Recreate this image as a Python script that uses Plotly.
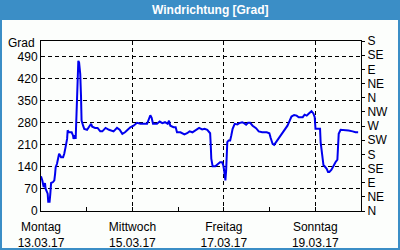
import pandas as pd
import plotly.graph_objects as go

# ---- data ----
start = "2017-03-13 00:00"
hours = [0.0, 0.7, 1.4, 2.1, 2.4, 3.5, 3.8, 4.5, 4.9, 5.3, 6.3, 7.0, 7.4, 7.7, 8.4, 8.7,
         9.5, 10.1, 10.5, 11.6, 12.2, 12.9, 13.7, 14.0, 14.7, 16.1, 16.8, 17.1, 17.9, 18.2,
         18.5, 18.9, 19.2, 19.6, 20.0, 20.3, 20.6, 21.0, 21.3, 22.1, 22.7, 24.2, 24.8, 26.3,
         26.9, 28.4, 29.7, 31.1, 32.2, 33.2, 33.9, 35.7, 37.1, 38.1, 39.9, 41.3, 42.7, 44.1,
         45.5, 46.9, 48.6, 50.4, 52.2, 55.7, 56.7, 57.4, 58.1, 58.8, 60.9, 62.3, 63.7, 65.1,
         66.5, 67.2, 67.9, 69.6, 70.7, 71.4, 73.2, 74.2, 75.3, 76.7, 78.0, 79.5, 81.2, 83.0,
         84.6, 85.9, 87.3, 88.8, 89.1, 89.4, 90.1, 91.5, 92.6, 94.0, 95.1, 95.7, 96.1, 96.8,
         97.2, 97.5, 97.8, 98.5, 99.3, 99.9, 100.6, 101.7, 103.1, 104.1, 105.6, 106.6, 107.7,
         108.7, 109.8, 111.1, 112.9, 114.3, 116.1, 118.5, 119.9, 120.6, 121.6, 122.4, 123.4,
         124.8, 126.2, 127.3, 128.3, 129.4, 130.4, 131.5, 132.9, 134.2, 135.3, 137.4, 138.4,
         139.5, 140.5, 142.0, 143.0, 143.7, 144.1, 145.1, 146.5, 146.8, 147.6, 148.3, 148.9,
         150.0, 150.7, 151.4, 152.5, 153.5, 154.6, 155.6, 156.0, 156.3, 157.3, 158.8, 161.5,
         163.6, 165.1, 166.5]
direction = [110, 97, 76, 89, 71, 55, 29, 29, 55, 89, 92, 97, 118, 139, 150, 161,
             182, 176, 171, 171, 182, 203, 229, 256, 250, 250, 240, 229, 240, 229,
             298, 372, 414, 477, 472, 456, 435, 366, 287, 271, 261, 258, 264, 277,
             268, 264, 264, 253, 253, 261, 264, 258, 256, 253, 264, 258, 245, 250,
             258, 266, 271, 280, 277, 277, 293, 304, 296, 277, 277, 284, 279, 282,
             277, 287, 271, 266, 266, 250, 250, 247, 243, 247, 253, 250, 256, 264,
             259, 261, 258, 247, 213, 166, 142, 142, 148, 155, 155, 145, 131, 97,
             129, 158, 219, 224, 224, 240, 261, 277, 275, 279, 282, 279, 274,
             280, 280, 271, 263, 253, 250, 250, 247, 232, 213, 210, 219,
             229, 243, 250, 261, 271, 285, 300, 305, 303, 298, 298, 306,
             303, 309, 317, 310, 298, 261, 261, 261, 219, 182, 145, 142,
             134, 124, 124, 131, 145, 155, 163, 203, 245, 258, 258, 256,
             253, 250, 250]

x_tick_dates = ["2017-03-13", "2017-03-15", "2017-03-17", "2017-03-19"]
x_tick_days = ["Montag", "Mittwoch", "Freitag", "Sonntag"]
x_tick_labels = ["13.03.17", "15.03.17", "17.03.17", "19.03.17"]
y_ticks = [0, 70, 140, 210, 280, 350, 420, 490]
compass_vals = [0, 45, 90, 135, 180, 225, 270, 315, 360, 405, 450, 495, 540]
compass_text = ["N", "NE", "E", "SE", "S", "SW", "W", "NW", "N", "NE", "E", "SE", "S"]
title = "Windrichtung [Grad]"
y_unit = "Grad"

# ---- figure ----
times = pd.Timestamp(start) + pd.to_timedelta(hours, unit="h")

W, H = 400, 250
ML, MR, MT, MB = 41, 39, 41, 39
PW, PH = W - ML - MR, H - MT - MB
def px_x(p):
    return (p - ML) / PW
def px_y(p):
    return (H - MB - p) / PH

FONT = "Liberation Sans, Arial, sans-serif"
BLUE = "#3b8ec6"
BG = "#fcfefc"

fig = go.Figure()
fig.add_trace(go.Scatter(x=times, y=direction, mode="lines",
                         line=dict(color="#0000ee", width=2), showlegend=False,
                         hoverinfo="skip"))
fig.add_trace(go.Scatter(x=[times[0]], y=[direction[0]], yaxis="y2", mode="markers",
                         marker=dict(opacity=0), showlegend=False, hoverinfo="skip"))

fig.update_layout(
    width=W, height=H,
    margin=dict(l=ML, r=MR, t=MT, b=MB, pad=0, autoexpand=False),
    paper_bgcolor=BG, plot_bgcolor=BG,
    font=dict(family=FONT, size=11, color="black"),
    xaxis=dict(
        type="date", range=["2017-03-13", "2017-03-20"],
        tickmode="array", tickvals=x_tick_dates,
        ticktext=[f"{d}<br>{l}" for d, l in zip(x_tick_days, x_tick_labels)],
        ticks="inside", ticklen=4, tickcolor="black",
        ticklabelstandoff=5,
        tickfont=dict(size=12),
        automargin=False,
        showline=True, linecolor="black", linewidth=1, mirror=True,
        showgrid=True, gridcolor="black", gridwidth=1, griddash="4px,3px",
        zeroline=False,
        minor=dict(dtick=86400000, tick0="2017-03-13", ticks="inside", ticklen=4,
                   tickcolor="black", showgrid=False),
        fixedrange=True,
    ),
    yaxis=dict(
        range=[0, 540], tickmode="array", tickvals=y_ticks,
        ticks="", showline=True, linecolor="black", linewidth=1,
        tickfont=dict(size=12), automargin=False,
        showgrid=True, gridcolor="black", gridwidth=1, griddash="4px,3px",
        zeroline=False, fixedrange=True,
    ),
    yaxis2=dict(
        range=[0, 540], overlaying="y", side="right",
        tickmode="array", tickvals=compass_vals, ticktext=compass_text,
        ticks="outside", ticklen=3, tickcolor="black",
        tickfont=dict(size=12), automargin=False,
        showline=True, linecolor="black", linewidth=1,
        showgrid=False, zeroline=False, fixedrange=True,
    ),
    shapes=[
        dict(type="rect", xref="paper", yref="paper",
             x0=px_x(0), x1=px_x(W), y0=px_y(20), y1=px_y(0),
             fillcolor=BLUE, line=dict(width=0), layer="above"),
        dict(type="rect", xref="paper", yref="paper",
             x0=px_x(1), x1=px_x(W - 1), y0=px_y(H - 1), y1=px_y(1),
             line=dict(color=BLUE, width=2), fillcolor="rgba(0,0,0,0)", layer="above"),
    ],
    annotations=[
        dict(text=f"<b>{title}</b>", xref="paper", yref="paper",
             x=px_x(210), y=px_y(10), xanchor="center", yanchor="middle",
             showarrow=False, font=dict(color="white", size=12, family=FONT)),
        dict(text=y_unit, xref="paper", yref="paper",
             x=px_x(37), y=px_y(43), xanchor="right", yanchor="middle",
             showarrow=False, font=dict(size=12, family=FONT)),
    ],
)

fig.write_html("out.html")
